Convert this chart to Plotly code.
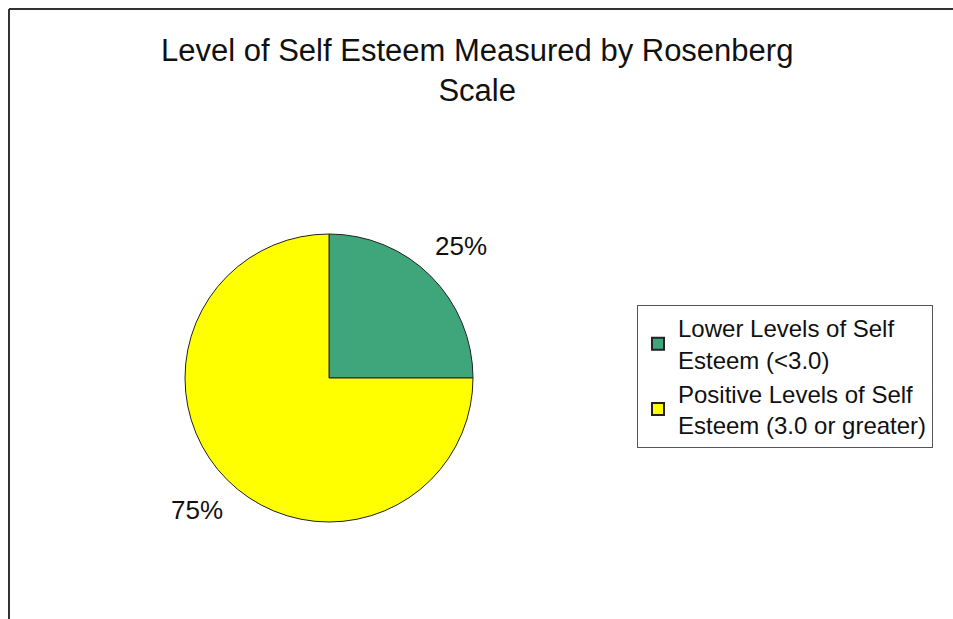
import math
import plotly.graph_objects as go

W, H = 953, 619

# Rosenberg self-esteem results
categories = [
    "Lower Levels of Self<br>Esteem (<3.0)",
    "Positive Levels of Self<br>Esteem (3.0 or greater)",
]
shares = [25, 75]
slice_colors = ["#3fa67b", "#ffff00"]

title_lines = ["Level of Self Esteem Measured by Rosenberg", "Scale"]

FONT = "Liberation Sans, Arial, sans-serif"

# pie geometry in pixels
CX, CY, R = 329, 378, 144
LABEL_R = 1.3 * R


def px_x(v):
    return v / W


def px_y(v):
    return 1 - v / H


fig = go.Figure(
    go.Pie(
        labels=categories,
        values=shares,
        sort=False,
        direction="clockwise",
        rotation=0,
        marker=dict(colors=slice_colors, line=dict(color="#222222", width=1)),
        textinfo="none",
        domain=dict(x=[px_x(CX - R), px_x(CX + R)], y=[px_y(CY + R), px_y(CY - R)]),
        showlegend=True,
        hoverinfo="label+percent",
    )
)

# percentage labels placed outside each slice along its bisector
total = sum(shares)
start = 0.0
for v in shares:
    mid = (start + v / 2) / total * 2 * math.pi  # clockwise from 12 o'clock
    lx = CX + LABEL_R * math.sin(mid)
    ly = CY - LABEL_R * math.cos(mid)
    fig.add_annotation(
        x=px_x(lx), y=px_y(ly), xref="paper", yref="paper",
        text=f"{round(100 * v / total)}%", showarrow=False,
        xanchor="center", yanchor="middle",
        font=dict(family=FONT, size=26, color="#111111"),
    )
    start += v

# chart title
fig.add_annotation(
    x=0.5, y=px_y(71), xref="paper", yref="paper",
    text="<br>".join(title_lines), showarrow=False,
    xanchor="center", yanchor="middle", align="center",
    font=dict(family=FONT, size=31, color="#111111"),
)

# chart-area frame (left and top edges)
frame = dict(color="#333333", width=2)
fig.add_shape(type="line", xref="paper", yref="paper",
              x0=px_x(9), x1=px_x(9), y0=0, y1=px_y(9), line=frame)
fig.add_shape(type="line", xref="paper", yref="paper",
              x0=px_x(9), x1=1, y0=px_y(9), y1=px_y(9), line=frame)

fig.update_layout(
    width=W,
    height=H,
    margin=dict(l=0, r=0, t=0, b=0),
    paper_bgcolor="white",
    plot_bgcolor="white",
    font=dict(family=FONT, color="#111111"),
    legend=dict(
        x=px_x(637),
        y=px_y(305),
        xanchor="left",
        yanchor="top",
        bgcolor="white",
        bordercolor="#555555",
        borderwidth=1,
        font=dict(family=FONT, size=24, color="#111111"),
        itemsizing="constant",
    ),
)

fig.write_html("out.html")
